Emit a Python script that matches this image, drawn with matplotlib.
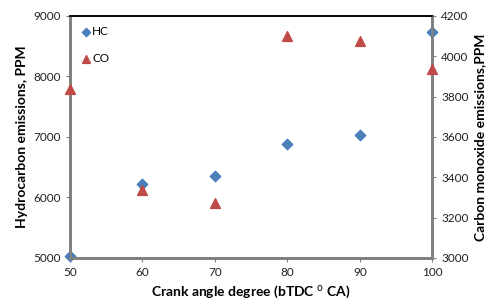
import matplotlib
matplotlib.use('Agg')
import matplotlib.pyplot as plt

CRANK_ANGLE = [50, 60, 70, 80, 90, 100]
HC_PPM = [5030, 6220, 6355, 6885, 7035, 8735]
CO_PPM = [3838, 3337, 3273, 4101, 4076, 3937]

plt.rcParams.update({'font.family': 'Lato', 'font.size': 8.5})

fig, ax = plt.subplots(figsize=(4.88, 3.0), dpi=100)
fig.subplots_adjust(left=0.143, right=0.886, top=0.947, bottom=0.14)
ax2 = ax.twinx()

hc = ax.scatter(CRANK_ANGLE, HC_PPM, marker='D', s=28, color='#4a7ebb', zorder=3, clip_on=False, label='HC')
co = ax2.scatter(CRANK_ANGLE, CO_PPM, marker='^', s=50, color='#be4b48', zorder=3, clip_on=False, label='CO')

ax.set_xlim(50, 100)
ax.set_ylim(5000, 9000)
ax2.set_ylim(3000, 4200)
ax.set_xticks(CRANK_ANGLE)
ax.set_yticks([5000, 6000, 7000, 8000, 9000])
ax2.set_yticks([3000, 3200, 3400, 3600, 3800, 4000, 4200])

ax.set_xlabel('Crank angle degree (bTDC $^{\\mathrm{o}}$ CA)', fontweight='bold', fontsize=10)
ax.set_ylabel('Hydrocarbon emissions, PPM', fontweight='bold', fontsize=10)
ax2.set_ylabel('Carbon monoxide emissions,PPM', fontweight='bold', fontsize=10)

for a in (ax, ax2):
    for side in ('left', 'right', 'bottom'):
        a.spines[side].set_color('#808080')
        a.spines[side].set_linewidth(2)
    a.spines['top'].set_color('black')
    a.spines['top'].set_linewidth(1.2)
    a.tick_params(length=3, width=0.8, color='#808080', labelcolor='#222222')

ax.legend(handles=[hc, co], loc='upper left', frameon=False, handletextpad=0.05,
          labelspacing=1.4, borderaxespad=0.45, handlelength=1.0, fontsize=8.5,
          markerscale=0.8)

fig.savefig('out.png', dpi=100)
